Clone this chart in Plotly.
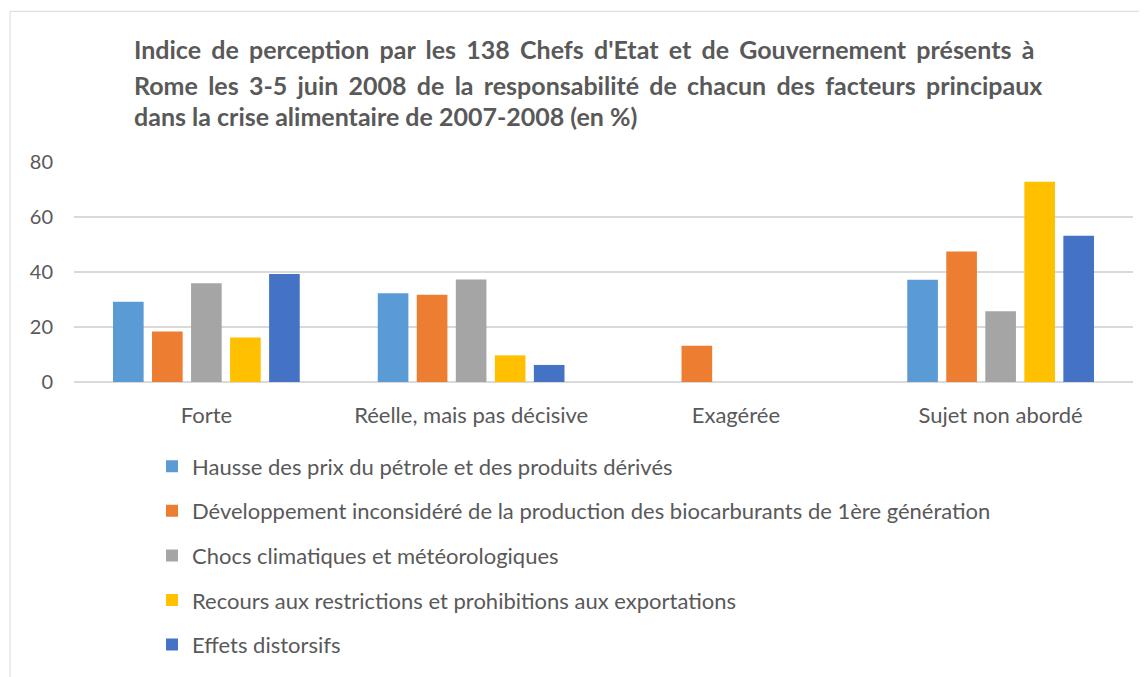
import plotly.graph_objects as go

# Données (en %)
categories = ['Forte', 'Réelle, mais pas décisive', 'Exagérée', 'Sujet non abordé']

series_noms = [
    'Hausse des prix du pétrole et des produits dérivés',
    'Développement inconsidéré de la production des biocarburants de 1ère génération',
    'Chocs climatiques et météorologiques',
    'Recours aux restrictions et prohibitions aux exportations',
    'Effets distorsifs',
]
petrole = [29.2, 32.3, 0, 37.2]
biocarburants = [18.4, 31.7, 13.2, 47.5]
climat = [35.9, 37.3, 0, 25.7]
restrictions = [16.2, 9.7, 0, 72.8]
distorsifs = [39.3, 6.2, 0, 53.2]

titre_lignes = [
    "Indice de perception par les 138 Chefs d'Etat et de Gouvernement présents à",
    "Rome les 3-5 juin 2008 de la responsabilité de chacun des facteurs principaux",
    "dans la crise alimentaire de 2007-2008 (en %)",
]

COLORES = ['#5B9BD5', '#ED7D31', '#A5A5A5', '#FFC000', '#4472C4']
GRIS = '#595959'
FONT = 'Lato, Open Sans, sans-serif'

# Zone de tracé à l'écran (px) : x 74 -> 1133, y 162 (80) -> 384 (0)
X0, X1, Y0, Y1 = 74, 1133, 384, 162
OFF = 8  # marge par défaut du <body>


def px_x(v):
    return (v - X0) / (X1 - X0)


def px_y(v):
    return (Y0 - v) / (Y0 - Y1)


fig = go.Figure()
for i, (nom, vals) in enumerate(zip(series_noms,
                                     [petrole, biocarburants, climat, restrictions, distorsifs])):
    fig.add_trace(go.Bar(
        x=categories,
        y=vals,
        name=nom,
        legendgroup=f'g{i}',
        marker=dict(color=COLORES[i], line=dict(width=0)),
    ))

# Titre sur trois lignes, les deux premières justifiées
for k, (ligne, ypx) in enumerate(zip(titre_lignes, [48, 84, 116])):
    if k < 2:
        ligne = ' \u2006'.join(ligne.split(' '))
    fig.add_annotation(
        text=f'<b>{ligne}</b>',
        xref='paper', yref='paper',
        x=px_x(132), y=px_y(ypx),
        xanchor='left', yanchor='middle',
        showarrow=False,
        font=dict(family=FONT, size=25, color=GRIS),
    )

# Cadre léger autour du graphique
fig.add_shape(
    type='rect', xref='paper', yref='paper',
    x0=px_x(10), x1=px_x(1146),
    y0=px_y(700), y1=px_y(10),
    line=dict(color='#d9d9d9', width=1),
    fillcolor='rgba(0,0,0,0)',
)

W, H = 1147 - OFF, 677 - OFF
fig.update_layout(
    width=W,
    height=H,
    margin=dict(l=X0 - OFF, r=W - (X1 - OFF), t=Y1 - OFF, b=H - (Y0 - OFF)),
    paper_bgcolor='white',
    plot_bgcolor='white',
    barmode='group',
    bargap=0.263,
    bargroupgap=0.215,
    font=dict(family=FONT, size=22, color=GRIS),
    showlegend=True,
    legend=dict(
        orientation='v',
        x=px_x(152), xanchor='left',
        y=px_y(448), yanchor='top',
        font=dict(size=22, color=GRIS),
        traceorder='grouped',
        tracegroupgap=13,
        bgcolor='rgba(0,0,0,0)',
    ),
)
fig.update_yaxes(
    range=[0, 80], dtick=20,
    gridcolor='#d9d9d9', gridwidth=1.5,
    zeroline=True, zerolinecolor='#d9d9d9', zerolinewidth=2,
    showline=False, ticks='', ticklabelstandoff=20,
    tickfont=dict(size=20, color=GRIS),
)
fig.update_xaxes(
    showline=False, ticks='', ticklabelstandoff=18,
    tickfont=dict(size=22, color=GRIS),
)

fig.write_html('out.html')
